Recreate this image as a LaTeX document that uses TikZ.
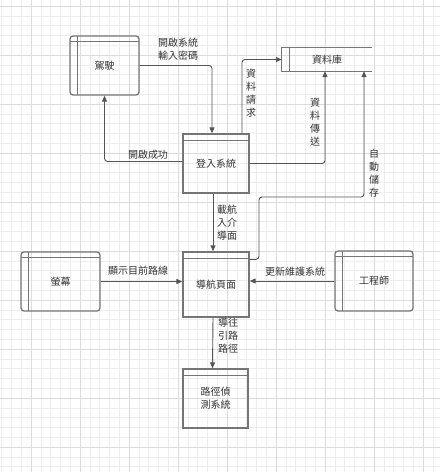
\documentclass[tikz,border=0pt]{standalone}
\usepackage{fontspec}
\setmainfont{Noto Sans CJK TC}
\usetikzlibrary{arrows.meta,calc,positioning}
\definecolor{boxgray}{HTML}{757575}
\definecolor{flowgray}{HTML}{555555}
\definecolor{txtgray}{HTML}{333333}
\definecolor{gridminor}{HTML}{EEEEEE}
\definecolor{gridmajor}{HTML}{DCDCDC}
\tikzset{
  entbox/.style={draw=boxgray, line width=1.3pt, rounded corners=3pt, inner sep=0pt,
    font=\fontsize{10}{13}\selectfont, text=txtgray,
    path picture={
      \draw[boxgray, line width=1pt] ([xshift=7pt]path picture bounding box.north west) -- ([xshift=7pt]path picture bounding box.south west);
      \draw[boxgray, line width=1pt] ([yshift=-5.5pt]path picture bounding box.north west) -- ([yshift=-5.5pt]path picture bounding box.north east);}},
  procbox/.style={draw=boxgray, line width=1.3pt, inner sep=0pt, align=center,
    font=\fontsize{10}{13}\selectfont, text=txtgray,
    path picture={
      \draw[boxgray, line width=1pt] ([yshift=-6pt]path picture bounding box.north west) -- ([yshift=-6pt]path picture bounding box.north east);}},
  storebox/.style={inner sep=0pt, font=\fontsize{10}{13}\selectfont, text=txtgray},
  flow/.style={draw=flowgray, line width=0.9pt, rounded corners=3pt, -{Triangle[length=6pt,width=5pt]}},
  lbl/.style={font=\fontsize{10}{13}\selectfont, text=txtgray, inner sep=0pt, align=center},
  gline/.style={draw=gridminor, line width=0.6pt},
  gmajor/.style={draw=gridmajor, line width=0.8pt}
}

\begin{document}
\begin{tikzpicture}[x=1pt, y=-1pt]
  % background and grid
  \fill[white] (0,0) rectangle (440,472);
  \useasboundingbox (0,0) rectangle (440,472);
  \foreach \i in {0,...,46}
    \draw[gline] ({-18+9.8*\i},0) -- ({-18+9.8*\i},472);
  \foreach \i in {0,...,49}
    \draw[gline] (0,{-3.8+9.8*\i}) -- (440,{-3.8+9.8*\i});
  \foreach \i in {0,...,9}
    \draw[gmajor] ({-18+49*\i},0) -- ({-18+49*\i},472);
  \foreach \i in {0,...,9}
    \draw[gmajor] (0,{6+49*\i}) -- (440,{6+49*\i});

  % entities and processes
  \node[entbox, minimum width=69pt, minimum height=59pt] (drv) at (104.5,65.5) {駕駛};
  \node[entbox, minimum width=79pt, minimum height=59pt] (scr) at (60.5,281.5) {螢幕};
  \node[entbox, minimum width=78pt, minimum height=60pt] (eng) at (374,281) {工程師};
  \node[procbox, minimum width=66pt, minimum height=59pt] (login) at (216,163.5) {\raisebox{-3pt}{登入系統}};
  \node[procbox, minimum width=66pt, minimum height=65pt] (nav) at (216,284.5) {導航頁面};
  \node[procbox, minimum width=65pt, minimum height=59pt] (path) at (215.5,398.5) {路徑偵\\測系統};

  % data store
  \node[storebox, minimum width=90pt, minimum height=23pt] (db) at (327,59.5) {資料庫};
  \draw[boxgray, line width=1.3pt] (db.north east) -- (db.north west) -- (db.south west) -- (db.south east);
  \draw[boxgray, line width=1pt] ([xshift=8pt]db.north west) -- ([xshift=8pt]db.south west);

  % corner points
  \coordinate (savea) at (259,197);

  % flows
  \draw[flow] (drv.east) -| ([xshift=-4pt]login.north);
  \draw[flow] ([yshift=2pt]login.west) -| (drv.south);
  \draw[flow] ([xshift=26pt]login.north) |- (db.west);
  \draw[flow] (login.east) -| ([xshift=-2pt]db.south);
  \draw[flow] ([yshift=-8pt]nav.north east) -| (savea) -| ([xshift=37pt]db.south);
  \draw[flow] ([xshift=-3pt]login.south) -- ([xshift=-3pt]nav.north);
  \draw[flow] (scr.east) -- (scr.east -| nav.west);
  \draw[flow] (eng.west) -- (eng.west -| nav.east);
  \draw[flow] ([xshift=-3pt]nav.south) -- ([xshift=-3pt]path.north);

  % flow labels
  \node[lbl] (lopen) at (178,49) {開啟系統\\輸入密碼};
  \node[lbl] (lok) at (148,155) {開啟成功};
  \node[lbl] (lreq) at (251,93) {資\\料\\請\\求};
  \node[lbl] (lsend) at (315,122) {資\\料\\傳\\送};
  \node[lbl] (lsave) at (374,173) {自\\動\\儲\\存};
  \node[lbl] (lload) at (227,223) {載航\\入介\\導面};
  \node[lbl] (lshow) at (138,271) {顯示目前路線};
  \node[lbl] (lupd) at (295,272) {更新維護系統};
  \node[lbl] (lguide) at (228,336) {導往\\引路\\路徑};
\end{tikzpicture}
\end{document}
